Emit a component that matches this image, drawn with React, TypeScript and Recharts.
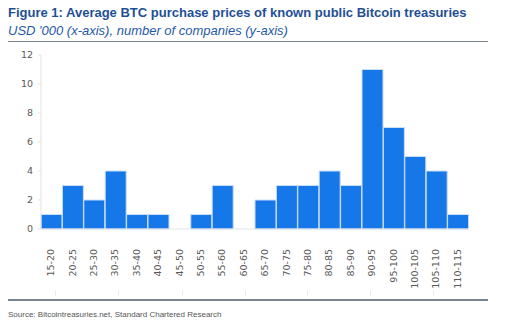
import React from "react";
import { BarChart, Bar, XAxis, YAxis } from "recharts";

const categories = ["15-20","20-25","25-30","30-35","35-40","40-45","45-50","50-55","55-60","60-65","65-70","70-75","75-80","80-85","85-90","90-95","95-100","100-105","105-110","110-115"];
const companies = [1,3,2,4,1,1,0,1,3,0,2,3,3,4,3,11,7,5,4,1];
const yTicks = [0,2,4,6,8,10,12];
const faintMarks = [55, 118, 182, 245, 307, 370, 433];

const data = categories.map((c, i) => ({ range: c, count: companies[i] }));

const XTick = (props: any) => {
  const { x, y, payload } = props;
  return (
    <text
      x={0}
      y={0}
      transform={`translate(${x + 2.5},${y + 12}) rotate(-90)`}
      textAnchor="end"
      fontSize={9.5}
      fill="#595959"
      fontFamily="'DejaVu Sans', Verdana, sans-serif"
    >
      {payload.value}
    </text>
  );
};

export default function App() {
  return (
    <div style={{ position: "absolute", left: 0, top: 0, width: 508, height: 327, background: "#fff", overflow: "hidden" }}>
      <div style={{ position: "absolute", left: 8, top: 5, fontFamily: "'Liberation Sans', Arial, sans-serif", fontWeight: "bold", fontSize: 13, color: "#1f4f96", whiteSpace: "nowrap" }}>
        Figure 1: Average BTC purchase prices of known public Bitcoin treasuries
      </div>
      <div style={{ position: "absolute", left: 8, top: 23, fontFamily: "'Liberation Sans', Arial, sans-serif", fontStyle: "italic", fontSize: 13, color: "#1f5aa8", whiteSpace: "nowrap" }}>
        USD '000 (x-axis), number of companies (y-axis)
      </div>
      <div style={{ position: "absolute", left: 8, top: 40.5, width: 480, height: 1.5, background: "#7b8590" }} />
      <div style={{ position: "absolute", left: 0, top: 0 }}>
        <BarChart width={508} height={295} data={data} margin={{ top: 55, right: 39, bottom: 17, left: 0 }} barCategoryGap={0}>
          <YAxis
            width={41}
            domain={[0, 12]}
            ticks={yTicks}
            interval={0}
            axisLine={{ stroke: "#e3e3e3" }}
            tickLine={{ stroke: "#e3e3e3" }}
            tickSize={3}
            tickMargin={5}
            tick={{ fontSize: 9.5, fill: "#595959", fontFamily: "'DejaVu Sans', Verdana, sans-serif" }}
          />
          <XAxis
            dataKey="range"
            interval={0}
            height={49}
            axisLine={{ stroke: "#e3e3e3" }}
            tickLine={false}
            tick={<XTick />}
          />
          <Bar dataKey="count" fill="#1677e8" stroke="#c9def7" strokeWidth={1} isAnimationActive={false} />
        </BarChart>
      </div>
      {faintMarks.map((x) => (
        <div key={x} style={{ position: "absolute", left: x, top: 290, width: 1, height: 6, background: "#ececec" }} />
      ))}
      <div style={{ position: "absolute", left: 8, top: 299, width: 480, height: 1.5, background: "#7b8590" }} />
      <div style={{ position: "absolute", left: 8, top: 310, fontFamily: "'Liberation Sans', Arial, sans-serif", fontSize: 8, color: "#555", whiteSpace: "nowrap" }}>
        Source: Bitcointreasuries.net, Standard Chartered Research
      </div>
    </div>
  );
}
